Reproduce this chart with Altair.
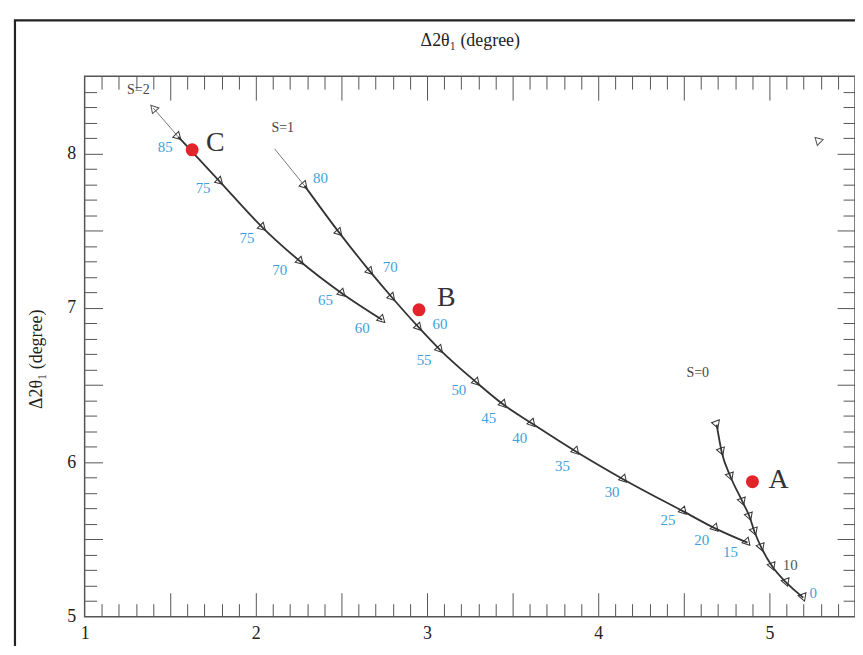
import altair as alt
import pandas as pd

# ---------------- data ----------------
# S=2 branch (triangles, upper-left curve)
s2_x = [1.547, 1.791, 2.041, 2.262, 2.506, 2.738]
s2_y = [8.107, 7.816, 7.518, 7.298, 7.091, 6.922]
s2_tail_x = [1.401, 1.547]
s2_tail_y = [8.294, 8.107]
s2_labels = ["85", "75", "75", "70", "65", "60"]
s2_label_x = [1.471, 1.692, 1.948, 2.140, 2.407, 2.622]
s2_label_y = [8.042, 7.777, 7.453, 7.246, 7.052, 6.871]

# S=1 branch (long middle curve)
s1_x = [2.285, 2.488, 2.669, 2.797, 2.953, 3.076, 3.291, 3.448, 3.616, 3.872,
        4.151, 4.500, 4.686, 4.872]
s1_y = [7.790, 7.485, 7.233, 7.065, 6.871, 6.728, 6.515, 6.372, 6.249, 6.068,
        5.887, 5.680, 5.570, 5.479]
s1_tail_x = [2.110, 2.285]
s1_tail_y = [8.029, 7.790]
s1_labels = ["80", "70", "60", "55", "50", "45", "40", "35", "30", "25", "20", "15"]
s1_label_x = [2.378, 2.785, 3.076, 2.983, 3.186, 3.360, 3.541, 3.791, 4.081,
              4.407, 4.605, 4.773]
s1_label_y = [7.841, 7.265, 6.896, 6.663, 6.469, 6.288, 6.159, 5.977, 5.809,
              5.628, 5.498, 5.421]

# S=0 branch (steep right curve)
s0_x = [4.692, 4.721, 4.773, 4.843, 4.884, 4.913, 4.953, 5.017, 5.099, 5.198]
s0_y = [6.243, 6.068, 5.906, 5.744, 5.647, 5.550, 5.447, 5.324, 5.220, 5.123]
s0_labels = ["0"]
s0_label_x = [5.256]
s0_label_y = [5.155]
s0_gray_labels = ["10"]
s0_gray_label_x = [5.122]
s0_gray_label_y = [5.337]

# measured points A, B, C
pt_names = ["A", "B", "C"]
pt_x = [4.901, 2.953, 1.628]
pt_y = [5.874, 6.987, 8.023]
pt_label_x = [4.994, 3.058, 1.709]
pt_label_y = [5.887, 7.065, 8.068]

# branch names
s_names = ["S=2", "S=1", "S=0"]
s_name_x = [1.314, 2.157, 4.581]
s_name_y = [8.411, 8.165, 6.579]

# arrow tip of S=2 and the lone triangle at upper right
arrow_x = [1.401]
arrow_y = [8.294]
lone_x = [5.285]
lone_y = [8.074]

# axes
x_domain = [1, 5.5]
y_domain = [5, 8.5]
x_tick_labels = [1, 2, 3, 4, 5]
y_tick_labels = [5, 6, 7, 8]
x_major_ticks = [1.5, 2.0, 2.5, 3.0, 3.5, 4.0, 4.5, 5.0]
x_minor_ticks = [1.1, 1.2, 1.3, 1.4, 1.6, 1.7, 1.8, 1.9, 2.1, 2.2, 2.3, 2.4,
                 2.6, 2.7, 2.8, 2.9, 3.1, 3.2, 3.3, 3.4, 3.6, 3.7, 3.8, 3.9,
                 4.1, 4.2, 4.3, 4.4, 4.6, 4.7, 4.8, 4.9, 5.1, 5.2, 5.3, 5.4]
y_major_ticks = [5.5, 6.0, 6.5, 7.0, 7.5, 8.0]
y_minor_ticks = [5.1, 5.2, 5.3, 5.4, 5.6, 5.7, 5.8, 5.9, 6.1, 6.2, 6.3, 6.4,
                 6.6, 6.7, 6.8, 6.9, 7.1, 7.2, 7.3, 7.4, 7.6, 7.7, 7.8, 7.9,
                 8.1, 8.2, 8.3, 8.4]
axis_title = "Δ2θ₁ (degree)"

# ---------------- tables ----------------
def branch(xs, ys, name):
    return pd.DataFrame({"x": xs, "y": ys, "branch": name, "i": list(range(len(xs)))})

lines_df = pd.concat([branch(s2_x, s2_y, "S=2"), branch(s1_x, s1_y, "S=1"),
                      branch(s0_x, s0_y, "S=0")], ignore_index=True)
tails_df = pd.concat([branch(s2_tail_x, s2_tail_y, "S=2"),
                      branch(s1_tail_x, s1_tail_y, "S=1")], ignore_index=True)
s2_df = pd.DataFrame({"x": s2_x, "y": s2_y})
s1_df = pd.DataFrame({"x": s1_x, "y": s1_y})
s0_df = pd.DataFrame({"x": s0_x, "y": s0_y})
blue_df = pd.DataFrame({"t": s2_labels + s1_labels + s0_labels,
                        "x": s2_label_x + s1_label_x + s0_label_x,
                        "y": s2_label_y + s1_label_y + s0_label_y})
gray_df = pd.DataFrame({"t": s0_gray_labels, "x": s0_gray_label_x, "y": s0_gray_label_y})
pts_df = pd.DataFrame({"t": pt_names, "x": pt_x, "y": pt_y,
                       "lx": pt_label_x, "ly": pt_label_y})
snames_df = pd.DataFrame({"t": s_names, "x": s_name_x, "y": s_name_y})
arrow_df = pd.DataFrame({"x": arrow_x, "y": arrow_y})
lone_df = pd.DataFrame({"x": lone_x, "y": lone_y})

# ---------------- styling ----------------
W, H = 774, 543
FONT = "Liberation Serif"
INK = "#333333"
TICK = "#555555"
BLUE = "#3f9fdc"
RED = "#e3242b"

XS = alt.Scale(domain=x_domain, nice=False, zero=False)
YS = alt.Scale(domain=y_domain, nice=False, zero=False)


def ax(**kw):
    base = dict(grid=False, domain=False, labels=False, ticks=False, title=None,
                tickColor=TICK, tickWidth=1)
    base.update(kw)
    return alt.Axis(**base)


def tick_axis(orient, offset, values, size):
    return ax(orient=orient, offset=offset, values=values, ticks=True, tickSize=size)


def X(field="x", axis=None):
    return alt.X(f"{field}:Q", scale=XS, axis=axis)


def Y(field="y", axis=None):
    return alt.Y(f"{field}:Q", scale=YS, axis=axis)


XMAJ, XMIN, YMAJ, YMIN = 24, 13, 18, 12

# bottom labels + left labels/title
lines = alt.Chart(lines_df).mark_line(color=INK, strokeWidth=1.8, interpolate="monotone").encode(
    x=X(axis=ax(orient="bottom", labels=True, values=x_tick_labels, labelFont=FONT,
                labelFontSize=18, labelColor="#222", labelPadding=8, labelFlush=False,
                format="d")),
    y=Y(axis=ax(orient="left", labels=True, values=y_tick_labels, labelFont=FONT,
                labelFontSize=18, labelColor="#222", labelPadding=9, labelFlush=False,
                format="d", title=axis_title, titleFont=FONT, titleFontSize=18,
                titleFontWeight="normal", titleColor="#222", titleX=-48, titleY=284,
                titleAngle=270, titleAlign="center", titleBaseline="middle")),
    detail="branch:N",
    order="i:Q",
)

tails = alt.Chart(tails_df).mark_line(color="#777777", strokeWidth=1).encode(
    x=X(axis=ax(orient="top", title=axis_title, titleFont=FONT, titleFontSize=18,
                titleFontWeight="normal", titleColor="#222", titleX=W / 2, titleY=-36,
                titleAlign="center", titleBaseline="middle")),
    y=Y(axis=tick_axis("right", -W, y_minor_ticks, YMIN)),
    detail="branch:N",
    order="i:Q",
)

TRI = 70
tri2 = alt.Chart(s2_df).mark_point(shape="triangle-down", size=TRI, color=INK, strokeWidth=1,
                                   filled=False, angle=315, opacity=1).encode(
    x=X(axis=tick_axis("top", -H, x_major_ticks, XMAJ)),
    y=Y(axis=tick_axis("right", -W, y_major_ticks, YMAJ)),
)
tri1 = alt.Chart(s1_df).mark_point(shape="triangle-down", size=TRI, color=INK, strokeWidth=1,
                                   filled=False, angle=318, opacity=1).encode(
    x=X(axis=tick_axis("top", -H, x_minor_ticks, XMIN)),
    y=Y(axis=tick_axis("left", -W, y_major_ticks, YMAJ)),
)
tri0 = alt.Chart(s0_df).mark_point(shape="triangle-down", size=TRI, color=INK, strokeWidth=1,
                                   filled=False, angle=340, opacity=1).encode(
    x=X(axis=tick_axis("bottom", -H, x_major_ticks, XMAJ)),
    y=Y(axis=tick_axis("left", -W, y_minor_ticks, YMIN)),
)

dots = alt.Chart(pts_df).mark_circle(size=170, color=RED, opacity=1).encode(
    x=X(axis=tick_axis("bottom", -H, x_minor_ticks, XMIN)),
    y=Y(),
)

letters = alt.Chart(pts_df).mark_text(font=FONT, fontSize=28, color="#333", align="left",
                                      baseline="middle").encode(
    x=X("lx"), y=Y("ly"), text="t:N")

blue = alt.Chart(blue_df).mark_text(font=FONT, fontSize=15, color=BLUE, align="center",
                                    baseline="middle").encode(x=X(), y=Y(), text="t:N")

gray = alt.Chart(gray_df).mark_text(font=FONT, fontSize=15, color="#555", align="center",
                                    baseline="middle").encode(x=X(), y=Y(), text="t:N")

snames = alt.Chart(snames_df).mark_text(font=FONT, fontSize=14, color="#444", align="center",
                                        baseline="middle").encode(x=X(), y=Y(), text="t:N")

arrow = alt.Chart(arrow_df).mark_point(shape="triangle-up", size=75, color="#555", strokeWidth=1,
                                       filled=False, angle=319, opacity=1).encode(x=X(), y=Y())

lone = alt.Chart(lone_df).mark_point(shape="triangle-down", size=70, color="#555", strokeWidth=1,
                                     filled=False, angle=15, opacity=1).encode(x=X(), y=Y())

frame = alt.Chart(pd.DataFrame({"k": [0]})).mark_rect(
    fill=None, stroke="#222", strokeWidth=2.2, clip=False).encode(
    x=alt.value(-70), x2=alt.value(W + 40), y=alt.value(-56), y2=alt.value(H + 80))

chart = alt.layer(
    frame, tails, lines, tri2, tri1, tri0, arrow, lone, dots, letters, blue, gray, snames
).resolve_scale(
    x="shared", y="shared"
).resolve_axis(
    x="independent", y="independent"
).properties(
    width=W, height=H,
    autosize=alt.AutoSizeParams(type="none"),
    padding={"left": 77, "top": 67, "right": 0, "bottom": 28},
    background="white",
).configure_view(
    stroke="#555555", strokeWidth=1.5
).configure_axis(
    titleFontWeight="normal"
)

chart.save("out.html", embed_options={"renderer": "svg", "actions": False})
